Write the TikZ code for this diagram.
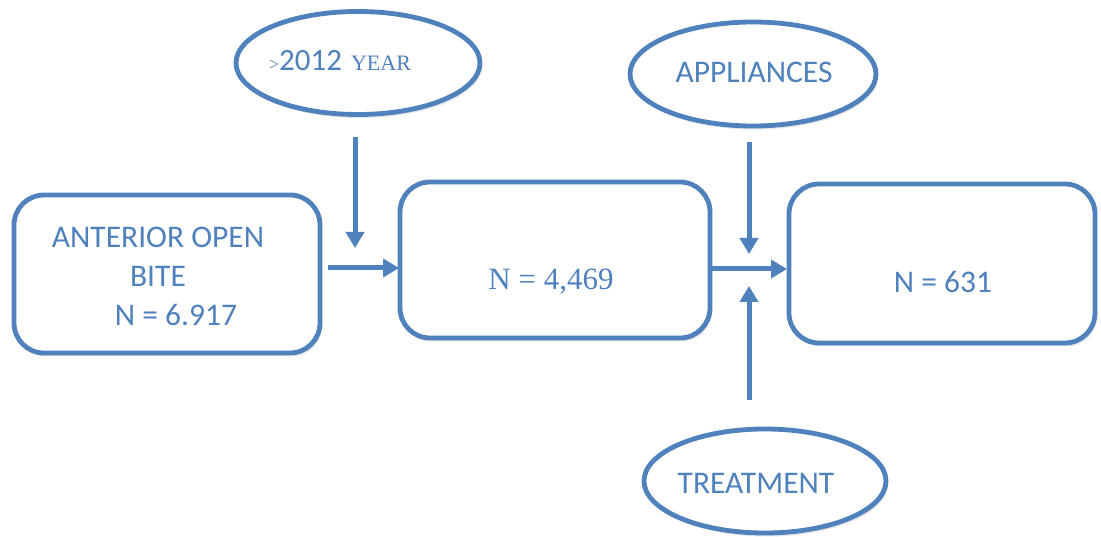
\documentclass[tikz,border=0pt]{standalone}
\usepackage{fontspec}
\setmainfont{Liberation Serif}
\newfontfamily\calib{Carlito}
\usetikzlibrary{arrows.meta,shapes.geometric,shadows}
\definecolor{obl}{HTML}{4F81BD}
\begin{document}
\begin{tikzpicture}[x=1pt,y=-1pt,
  boxst/.style={draw=obl,line width=4.8pt,rounded corners=30pt,fill=white,inner sep=0pt,
    drop shadow={opacity=0.2,shadow xshift=2pt,shadow yshift=-3.5pt}},
  ellst/.style={draw=obl,line width=4.8pt,ellipse,fill=white,inner sep=0pt,
    drop shadow={opacity=0.2,shadow xshift=2pt,shadow yshift=-3.5pt}},
  txt/.style={text=obl,inner sep=0pt},
  arr/.style={draw=obl,line width=5pt,-{Triangle[length=16pt,width=18pt]}}]
\useasboundingbox (0,0) rectangle (1101,537);
% boxes
\node[boxst,minimum width=306pt,minimum height=158pt] (b1) at (167,274) {};
\node[boxst,minimum width=310pt,minimum height=156pt] (b2) at (555,260) {};
\node[boxst,minimum width=306pt,minimum height=159pt] (b3) at (942,263.5) {};
% ellipses
\node[ellst,minimum width=244pt,minimum height=103pt] (e1) at (358,63) {};
\node[ellst,minimum width=246pt,minimum height=104pt] (e2) at (753,74) {};
\node[ellst,minimum width=242pt,minimum height=104pt] (e3) at (765,481) {};
% texts
\node[txt,align=center,font=\calib\fontsize{31.5}{39}\selectfont] (t1) at (158,276)
  {ANTERIOR OPEN\\BITE\\\hspace*{36pt}N = 6.917};
\node[txt,font=\fontsize{31}{36}\selectfont] (t2) at (551,282) {N = 4,469};
\node[txt,font=\calib\fontsize{31.5}{36}\selectfont] (t3) at (943,282) {N = 631};
\node[txt,anchor=base] (t4) at (340,71)
  {{\fontsize{18}{20}\selectfont >}{\calib\fontsize{31}{36}\selectfont 2012}\hspace{9pt}{\fontsize{22}{24}\selectfont YEAR}};
\node[txt,font=\calib\fontsize{31.5}{36}\selectfont] (t5) at (754,72) {APPLIANCES};
\node[txt,font=\calib\fontsize{31.5}{36}\selectfont] (t6) at (756,483) {TREATMENT};
% connector coordinates
\coordinate (a1s) at (355,137);
\coordinate (a1e) at (355,248);
\coordinate (h1s) at (328,268);
\coordinate (h1e) at (399,268);
\coordinate (h2s) at (712,269);
\coordinate (h2e) at (787,269);
\coordinate (a2s) at (749,142);
\coordinate (a2e) at (749,254);
\coordinate (a3s) at (749,400);
\coordinate (a3e) at (749,286);
\draw[arr] (a1s) -- (a1e);
\draw[arr] (h1s) -- (h1e);
\draw[arr] (h2s) -- (h2e);
\draw[arr] (a2s) -- (a2e);
\draw[arr] (a3s) -- (a3e);
\end{tikzpicture}
\end{document}
